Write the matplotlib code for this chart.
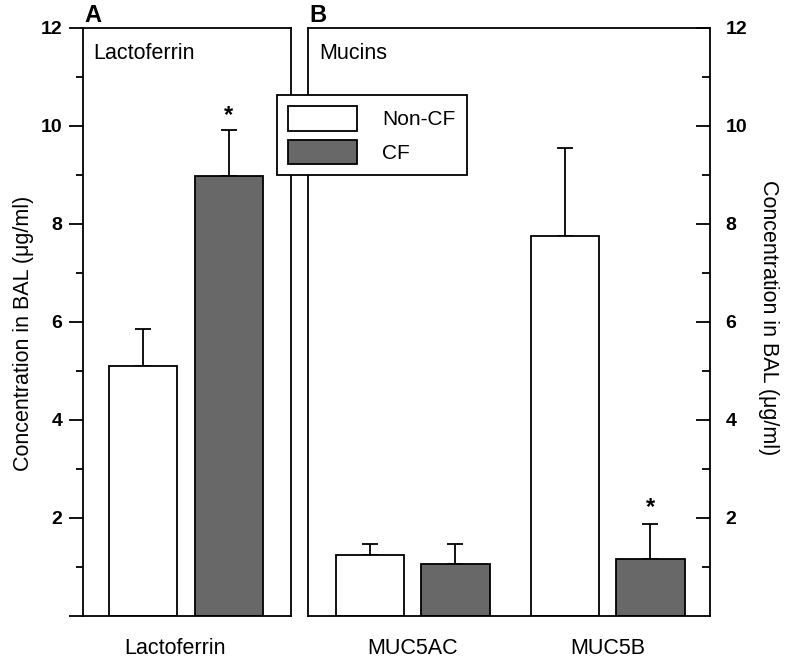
import matplotlib.pyplot as plt
import matplotlib.patches as mpatches
import numpy as np

plt.rcParams["font.family"] = ["Liberation Sans", "DejaVu Sans"]

groups_a = ["Lactoferrin"]
noncf_a = [5.10]
noncf_a_err = [0.75]
cf_a = [8.97]
cf_a_err = [0.95]

groups_b = ["MUC5AC", "MUC5B"]
noncf_b = [1.24, 7.75]
noncf_b_err = [0.22, 1.80]
cf_b = [1.05, 1.16]
cf_b_err = [0.41, 0.72]

yticks_major = [2, 4, 6, 8, 10, 12]
gray = "#686868"

W, H = 792, 659
fig = plt.figure(figsize=(W / 100, H / 100), dpi=100)


def px_axes(l, r, t, b):
    return fig.add_axes([l / W, 1 - b / H, (r - l) / W, (b - t) / H])


axA = px_axes(83, 291, 28, 615.6)
axB = px_axes(308, 710, 28, 615.6)

bw = 0.8
ekw = dict(elinewidth=1.3, capthick=1.3)


def draw(ax, centers, non, non_e, cf, cf_e):
    x0 = np.array(centers) - 0.5
    x1 = np.array(centers) + 0.5
    ax.bar(x0, non, width=bw, color="white", edgecolor="black", linewidth=1.3, zorder=2)
    ax.bar(x1, cf, width=bw, color=gray, edgecolor="black", linewidth=1.3, zorder=2)
    ax.errorbar(x0, non, yerr=[np.zeros(len(non)), non_e], fmt="none",
                ecolor="black", capsize=5.5, zorder=1, **ekw)
    ax.errorbar(x1, cf, yerr=[np.zeros(len(cf)), cf_e], fmt="none",
                ecolor="black", capsize=5.5, zorder=1, **ekw)
    return x0, x1


centers_a = [0.0]
xa0, xa1 = draw(axA, centers_a, noncf_a, noncf_a_err, cf_a, cf_a_err)
axA.text(xa1[0], cf_a[0] + cf_a_err[0] + 0.3, "*", ha="center", va="center",
         fontsize=17, fontweight="bold")

centers_b = [0.0, 2.28]
xb0, xb1 = draw(axB, centers_b, noncf_b, noncf_b_err, cf_b, cf_b_err)
axB.text(xb1[1], cf_b[1] + cf_b_err[1] + 0.33, "*", ha="center", va="center",
         fontsize=17, fontweight="bold")

axA.set_xlim(-1.205, 1.228)
axB.set_xlim(-1.225, 3.477)
for ax in (axA, axB):
    ax.set_ylim(0, 12)
    for s in ax.spines.values():
        s.set_linewidth(1.3)
    ax.set_xticks([])

axA.set_yticks([0] + yticks_major)
axA.set_yticklabels([""] + [str(v) for v in yticks_major], fontsize=14, fontweight="bold")
axA.set_yticks(np.arange(1, 12, 2), minor=True)
axA.tick_params(axis="y", which="major", direction="out", length=10, width=1.3, pad=5)
axA.tick_params(axis="y", which="minor", direction="out", length=5, width=1.3)

axB.yaxis.tick_right()
axB.set_yticks(yticks_major)
axB.set_yticklabels([str(v) for v in yticks_major], fontsize=14, fontweight="bold")
axB.set_yticks(np.arange(1, 12, 2), minor=True)
axB.tick_params(axis="y", which="major", direction="in", length=10, width=1.3, pad=11)
axB.tick_params(axis="y", which="minor", direction="in", length=6, width=1.3)
axB.tick_params(axis="y", which="both", left=False, right=True)

# category labels below the axes
axA.text(centers_a[0] - 0.13, -0.45, groups_a[0], ha="center", va="top",
         fontsize=15.5, clip_on=False)
for c, g in zip(centers_b, groups_b):
    axB.text(c, -0.45, g, ha="center", va="top", fontsize=15.5, clip_on=False)

axA.text(0.05, 0.975, "Lactoferrin", transform=axA.transAxes, ha="left", va="top", fontsize=15.5)
axB.text(0.028, 0.975, "Mucins", transform=axB.transAxes, ha="left", va="top", fontsize=15.5)

fig.text(84 / W, 1 - 15 / H, "A", ha="left", va="center", fontsize=17, fontweight="bold")
fig.text(309 / W, 1 - 15 / H, "B", ha="left", va="center", fontsize=17, fontweight="bold")

ylab = "Concentration in BAL (\u03bcg/ml)"
fig.text(24 / W, 1 - 333 / H, ylab, rotation=90, ha="center", va="center", fontsize=15.5)
fig.text(769 / W, 1 - 318 / H, ylab, rotation=-90, ha="center", va="center", fontsize=15.5)

handles = [mpatches.Patch(facecolor="white", edgecolor="black", linewidth=1.3, label="Non-CF"),
           mpatches.Patch(facecolor=gray, edgecolor="black", linewidth=1.3, label="CF")]
leg = fig.legend(handles=handles, loc="upper left", bbox_to_anchor=(277 / W, 1 - 95 / H),
                 fontsize=15, frameon=True, fancybox=False, framealpha=1,
                 edgecolor="black", handlelength=3.3, handleheight=1.4,
                 handletextpad=1.2, borderpad=0.55, labelspacing=0.45,
                 borderaxespad=0)
leg.get_frame().set_linewidth(1.3)
leg.set_zorder(10)

fig.savefig("out.png", dpi=100)
